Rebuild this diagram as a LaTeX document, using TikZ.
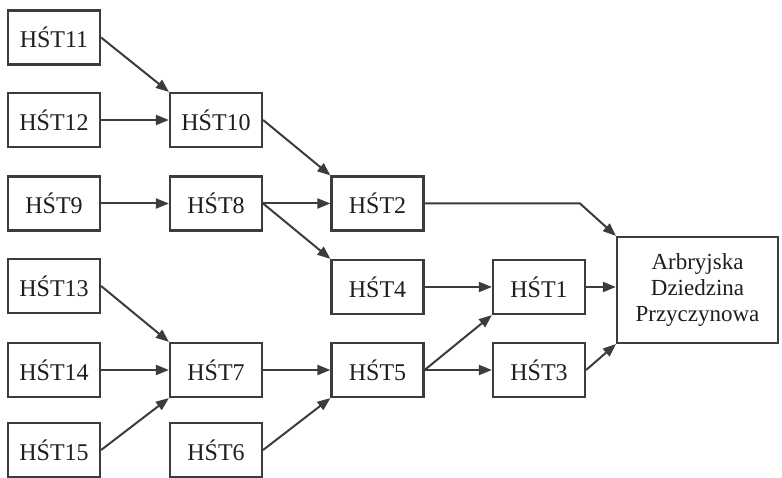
\documentclass[tikz,border=0pt]{standalone}
\usepackage{fontspec}
\setmainfont{Liberation Serif}
\usetikzlibrary{arrows.meta}
\definecolor{lin}{HTML}{3C3C3C}
\definecolor{txt}{HTML}{1E1E1E}
\tikzset{
  hbox/.style={draw=lin, line width=2.2pt, minimum width=92pt, minimum height=54pt, inner sep=0pt, text=txt, font=\fontsize{24}{26}\selectfont},
  bigbox/.style={draw=lin, line width=2.2pt, minimum width=161pt, minimum height=106pt, inner sep=0pt, text=txt, align=center, font=\fontsize{23}{26}\selectfont},
  arr/.style={draw=lin, line width=2pt, -{Triangle[length=13pt,width=10pt]}}
}
\begin{document}
\begin{tikzpicture}[x=1pt,y=-1pt]
\fill[white] (0,0) rectangle (782,478);
\useasboundingbox (0,0) rectangle (782,478);
% column 1
\node[hbox] (h11) at (54,37.5) {HŚT11};
\node[hbox] (h12) at (54,120) {HŚT12};
\node[hbox] (h9)  at (54,203.5) {HŚT9};
\node[hbox] (h13) at (54,286) {HŚT13};
\node[hbox] (h14) at (54,370) {HŚT14};
\node[hbox] (h15) at (54,450) {HŚT15};
% column 2
\node[hbox] (h10) at (216,120) {HŚT10};
\node[hbox] (h8)  at (216,203.5) {HŚT8};
\node[hbox] (h7)  at (216,370) {HŚT7};
\node[hbox] (h6)  at (216,450) {HŚT6};
% column 3
\node[hbox] (h2) at (377.5,203.5) {HŚT2};
\node[hbox] (h4) at (377.5,287) {HŚT4};
\node[hbox] (h5) at (377.5,370) {HŚT5};
% column 4
\node[hbox] (h1) at (539,287) {HŚT1};
\node[hbox] (h3) at (539,370) {HŚT3};
% final
\node[bigbox] (adp) at (697.5,290) {Arbryjska\\Dziedzina\\Przyczynowa};
\coordinate (bend) at (580,203.5);
% connectors
\draw[arr] (h11.east) -- (h10.north west);
\draw[arr] (h12.east) -- (h10.west);
\draw[arr] (h9.east) -- (h8.west);
\draw[arr] (h10.east) -- (h2.north west);
\draw[arr] (h8.east) -- (h2.west);
\draw[arr] (h8.east) -- (h4.north west);
\draw[arr] (h13.east) -- (h7.north west);
\draw[arr] (h14.east) -- (h7.west);
\draw[arr] (h15.east) -- (h7.south west);
\draw[arr] (h7.east) -- (h5.west);
\draw[arr] (h6.east) -- (h5.south west);
\draw[arr] (h4.east) -- (h1.west);
\draw[arr] (h5.east) -- (h1.south west);
\draw[arr] (h5.east) -- (h3.west);
\draw[arr] (h2.east) -- (bend) -- (adp.north west);
\draw[arr] (h1.east) -- (adp.west |- h1.east);
\draw[arr] (h3.east) -- (adp.south west);
\end{tikzpicture}
\end{document}
